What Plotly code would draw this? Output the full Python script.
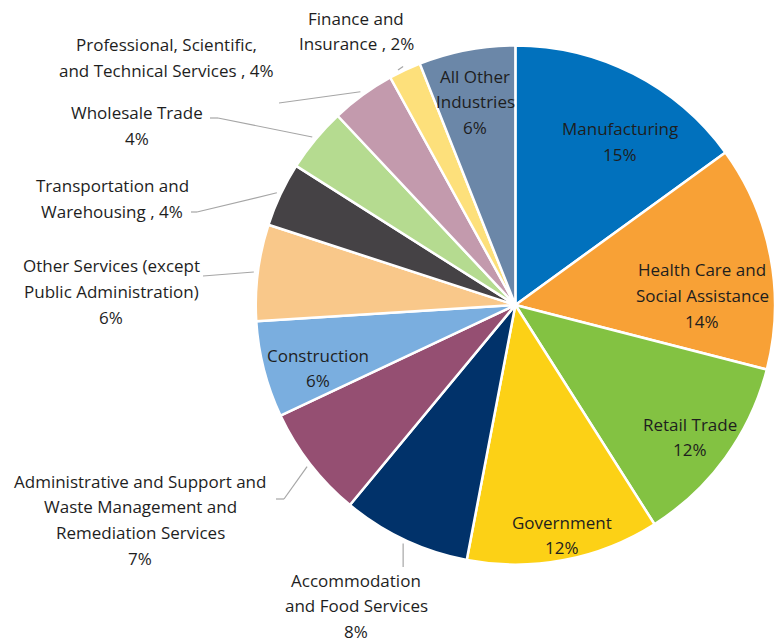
import math
import plotly.graph_objects as go

# Share of employment by industry (percent)
industries = [
    "Manufacturing",
    "Health Care and Social Assistance",
    "Retail Trade",
    "Government",
    "Accommodation and Food Services",
    "Administrative and Support and Waste Management and Remediation Services",
    "Construction",
    "Other Services (except Public Administration)",
    "Transportation and Warehousing",
    "Wholesale Trade",
    "Professional, Scientific, and Technical Services",
    "Finance and Insurance",
    "All Other Industries",
]
shares = [15, 14, 12, 12, 8, 7, 6, 6, 4, 4, 4, 2, 6]

colors = [
    "#0171BD", "#F8A136", "#83C242", "#FCD116", "#01326A", "#954F72",
    "#7AAEDF", "#F9C88A", "#454245", "#B5DB90", "#C39AAD", "#FDE07B",
    "#6B87A8",
]

W, H = 775, 642
DOM_X = [0.330, 1.0]
DOM_Y = [0.1168, 0.933]

# Label text lines ({p} = percentage), label centre in pixels, optional
# leader-line elbow points (pixels) before the slice edge.
# An elbow x of None means "directly above/below the slice edge point".
label_layout = {
    "Manufacturing": (["Manufacturing", "{p}"], (620, 129), None),
    "Health Care and Social Assistance": (["Health Care and", "Social Assistance", "{p}"], (702, 270), None),
    "Retail Trade": (["Retail Trade", "{p}"], (690, 424), None),
    "Government": (["Government", "{p}"], (562, 522), None),
    "Accommodation and Food Services": (["Accommodation", "and Food Services", "{p}"], (356, 580), [(None, 567)]),
    "Administrative and Support and Waste Management and Remediation Services": (
        ["Administrative and Support and", "Waste Management and", "Remediation Services", "{p}"],
        (140, 481), [(276, 499), (284, 499)]),
    "Construction": (["Construction", "{p}"], (318, 355), None),
    "Other Services (except Public Administration)": (
        ["Other Services (except", "Public Administration)", "{p}"], (111, 266), [(203, 276)]),
    "Transportation and Warehousing": (["Transportation and", "Warehousing , {p}"], (112, 186), [(191, 212), (197, 212)]),
    "Wholesale Trade": (["Wholesale Trade", "{p}"], (137, 113), [(210, 118), (218, 118)]),
    "Professional, Scientific, and Technical Services": (
        ["Professional, Scientific,", "and Technical Services , {p}"], (166, 45), [(279, 103)]),
    "Finance and Insurance": (["Finance and", "Insurance , {p}"], (356, 18), [(398, 70)]),
    "All Other Industries": (["All Other", "Industries", "{p}"], (475, 76), None),
}

LINE_GAP = 25.7
FONT = dict(family="Open Sans, Noto Sans, sans-serif", size=17, color="#1E1E1E")
LEADER = dict(color="#A6A6A6", width=1.2)

fig = go.Figure(
    go.Pie(
        labels=industries,
        values=shares,
        sort=False,
        direction="clockwise",
        rotation=0,
        marker=dict(colors=colors, line=dict(color="white", width=2.5)),
        textinfo="none",
        hovertemplate="%{label}<br>%{value}%<extra></extra>",
        domain=dict(x=DOM_X, y=DOM_Y),
        showlegend=False,
    )
)

# pie geometry in pixels (margins are zero, so paper == figure)
cx = (DOM_X[0] + DOM_X[1]) / 2 * W
cy = (1 - (DOM_Y[0] + DOM_Y[1]) / 2) * H
radius = min((DOM_X[1] - DOM_X[0]) * W, (DOM_Y[1] - DOM_Y[0]) * H) / 2


def px(x, y):
    return x / W, 1 - y / H


annotations = []
shapes = []
total = sum(shares)
cum = 0
for name, val in zip(industries, shares):
    lines, (lx, ly), elbow = label_layout[name]
    for i, line in enumerate(lines):
        ax, ay = px(lx, ly + i * LINE_GAP)
        annotations.append(dict(
            x=ax, y=ay, xref="paper", yref="paper", showarrow=False,
            text=line.replace("{p}", f"{val}%"), font=FONT,
            xanchor="center", yanchor="middle",
        ))
    mid = (cum + val / 2) / total * 2 * math.pi
    cum += val
    if elbow:
        # leader line ends just outside the slice at its mid angle
        ex = cx + (radius + 4) * math.sin(mid)
        ey = cy - (radius + 4) * math.cos(mid)
        pts = [(ex if x is None else x, y) for x, y in elbow] + [(ex, ey)]
        for (x0, y0), (x1, y1) in zip(pts[:-1], pts[1:]):
            a0, b0 = px(x0, y0)
            a1, b1 = px(x1, y1)
            shapes.append(dict(type="line", xref="paper", yref="paper",
                               x0=a0, y0=b0, x1=a1, y1=b1, line=LEADER))

fig.update_layout(
    width=W, height=H,
    margin=dict(l=0, r=0, t=0, b=0),
    paper_bgcolor="white",
    plot_bgcolor="white",
    annotations=annotations,
    shapes=shapes,
)

fig.write_html("out.html")
